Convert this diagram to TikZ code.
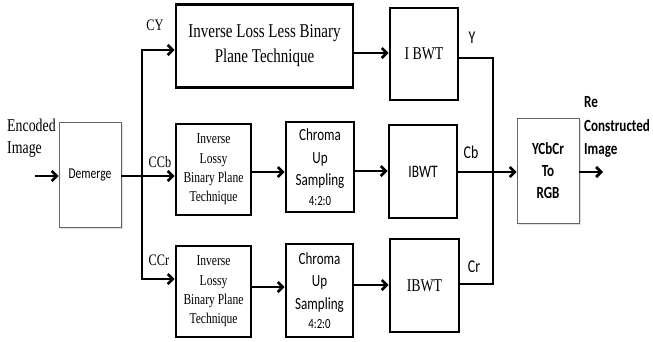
\documentclass[tikz,border=0pt]{standalone}
\usepackage{fontspec}
\setmainfont{Liberation Serif}
\newfontfamily\tmsf[FakeStretch=0.77]{Liberation Serif}
\newfontfamily\calf[FakeStretch=0.77]{Carlito}
\usetikzlibrary{arrows.meta,shadows}
\begin{document}
\begin{tikzpicture}[x=1pt,y=-1pt,
  boldbox/.style={draw=black,line width=2.7pt,fill=white,inner sep=0pt,align=center},
  thinbox/.style={draw=black!60,line width=0.8pt,fill=white,inner sep=0pt,align=center,
     drop shadow={opacity=0.25,shadow xshift=1.5pt,shadow yshift=-2pt}},
  arr/.style={line width=2.7pt,-{Straight Barb[length=5pt,width=10pt]}},
  ln/.style={line width=2.7pt},
  lab/.style={inner sep=0pt,anchor=center}]
\useasboundingbox (0,0) rectangle (653,341);
% boxes
\node[thinbox,minimum width=62pt,minimum height=105pt,font=\calf\fontsize{15}{18}\selectfont] (dem) at (90,174.5) {Demerge};
\node[boldbox,minimum width=177pt,minimum height=83pt,font=\tmsf\fontsize{19.5}{25}\selectfont] (ill) at (264.5,46) {Inverse Loss Less Binary\\Plane Technique};
\node[boldbox,minimum width=75pt,minimum height=91pt,font=\tmsf\fontsize{15}{19.3}\selectfont] (il1) at (213.5,169.5) {Inverse\\Lossy\\Binary Plane\\Technique};
\node[boldbox,minimum width=75pt,minimum height=91pt,font=\tmsf\fontsize{15}{19.3}\selectfont] (il2) at (213.5,291.5) {Inverse\\Lossy\\Binary Plane\\Technique};
\node[boldbox,minimum width=68pt,minimum height=90pt,font=\calf\fontsize{17}{22.5}\selectfont] (ch1) at (320,167) {Chroma\\Up\\Sampling\\[-3pt]{\fontsize{14}{17}\selectfont 4:2:0}};
\node[boldbox,minimum width=67pt,minimum height=93pt,font=\calf\fontsize{17}{22.5}\selectfont] (ch2) at (319.5,290.5) {Chroma\\Up\\Sampling\\[-3pt]{\fontsize{14}{17}\selectfont 4:2:0}};
\node[boldbox,minimum width=68pt,minimum height=92pt,font=\tmsf\fontsize{18}{22}\selectfont] (ib0) at (424,54) {I BWT};
\node[boldbox,minimum width=68pt,minimum height=93pt,font=\calf\fontsize{17.5}{22}\selectfont] (ib1) at (423,171.5) {IBWT};
\node[boldbox,minimum width=69pt,minimum height=93pt,font=\tmsf\fontsize{18}{22}\selectfont] (ib2) at (424.5,285.5) {IBWT};
\node[thinbox,minimum width=62pt,minimum height=105pt,font=\calf\bfseries\fontsize{17}{22}\selectfont] (rgb) at (548,170.5) {YCbCr\\To\\RGB};
% labels
\node[lab,anchor=west,align=left,font=\tmsf\fontsize{18}{22}\selectfont] (enc) at (7,138) {Encoded\\Image};
\node[lab,font=\tmsf\fontsize{16}{18}\selectfont] (lcy) at (155,25) {CY};
\node[lab,font=\tmsf\fontsize{16}{18}\selectfont] (lccb) at (160,162) {CCb};
\node[lab,font=\tmsf\fontsize{16}{18}\selectfont] (lccr) at (159,260) {CCr};
\node[lab,font=\calf\fontsize{18}{22}\selectfont] (ly) at (472,38) {Y};
\node[lab,font=\calf\fontsize{18}{22}\selectfont] (lcb) at (471,152) {Cb};
\node[lab,font=\calf\fontsize{18}{22}\selectfont] (lcr) at (474,267) {Cr};
\node[lab,anchor=west,align=left,font=\calf\bfseries\fontsize{17}{23.5}\selectfont] (out) at (584,127) {Re\\Constructed\\Image};
% coordinates
\coordinate (in) at (35,176);
\coordinate (lbT) at (142,50);
\coordinate (lbB) at (142,279);
\coordinate (rbT) at (493,58);
\coordinate (rbB) at (493,284);
\coordinate (rbM) at (493,172);
\coordinate (oend) at (603,172);
% left side
\draw[arr] (in) -- (in-|dem.west);
\draw[ln,line cap=rect] (lbT) -- (lbB);
\draw[arr] (lbT) -- (lbT-|ill.west);
\draw[arr] (dem.east|-in) -- (il1.west|-in);
\draw[arr] (lbB) -- (lbB-|il2.west);
% rows
\draw[arr] (ill.east|-0,53) -- (ib0.west|-0,53);
\draw[arr] (il1.east|-0,172) -- (ch1.west|-0,172);
\draw[arr] (ch1.east|-0,171) -- (ib1.west|-0,171);
\draw[arr] (il2.east|-0,287) -- (ch2.west|-0,287);
\draw[arr] (ch2.east|-0,285) -- (ib2.west|-0,285);
% right bus
\draw[ln,line join=miter] (ib0.east|-rbT) -- (rbT) -- (rbB) -- (ib2.east|-rbB);
\draw[ln] (ib1.east|-rbM) -- (rbM);
\draw[arr] (rbM) -- (rgb.west|-rbM);
\draw[arr] (rgb.east|-oend) -- (oend);
\end{tikzpicture}
\end{document}
